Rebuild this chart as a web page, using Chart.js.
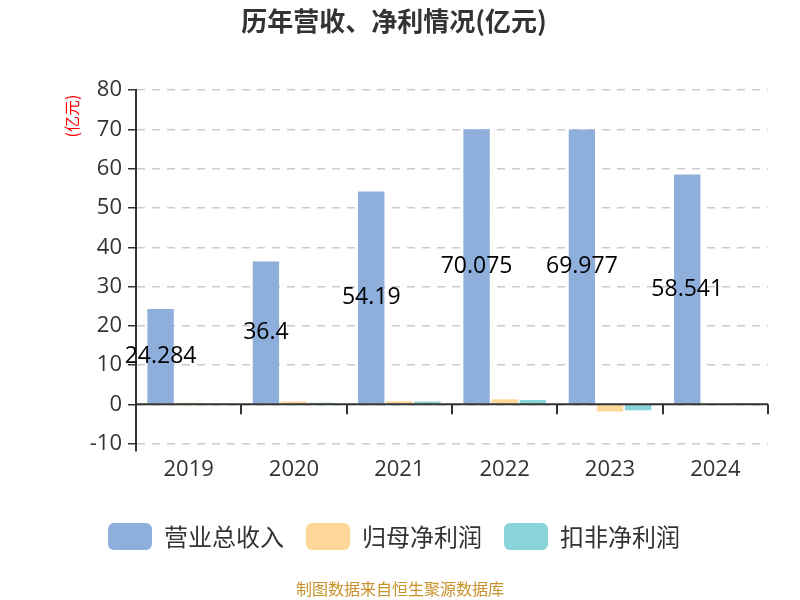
<!DOCTYPE html>
<html>
<head>
<meta charset="utf-8">
<script src="https://cdn.jsdelivr.net/npm/chart.js@4/dist/chart.umd.min.js"></script>
<style>
  body { margin: 0; background: #fff; }
  #wrap { width: 800px; height: 600px; }
</style>
</head>
<body>
<div id="wrap"><canvas id="chart" width="800" height="600"></canvas></div>
<script>
// data
const years = ['2019', '2020', '2021', '2022', '2023', '2024'];
const revenue = [24.284, 36.4, 54.19, 70.075, 69.977, 58.541];
const netProfit = [0.4, 0.7, 0.8, 1.3, -1.8, 0.2];
const deductedProfit = [0.3, 0.4, 0.7, 1.1, -1.5, 0.1];
const revenueLabels = ['24.284', '36.4', '54.19', '70.075', '69.977', '58.541'];

const FONT = '"Open Sans", "Noto Sans CJK SC", sans-serif';
const CJK = '"Noto Sans CJK SC", "Noto Sans", sans-serif';

// labels in the middle of the revenue bars, zero line, category ticks, unit + source
const extras = {
  id: 'extras',
  afterDatasetsDraw(chart) {
    const ctx = chart.ctx;
    const x = chart.scales.x;
    const y = chart.scales.y;
    const y0 = y.getPixelForValue(0);

    ctx.save();
    ctx.strokeStyle = '#333';
    ctx.lineWidth = 2;
    ctx.beginPath();
    ctx.moveTo(x.left, y0);
    ctx.lineTo(x.right, y0);
    const step = (x.right - x.left) / years.length;
    for (let i = 1; i <= years.length; i++) {
      const px = Math.round(x.left + step * i);
      ctx.moveTo(px, y0);
      ctx.lineTo(px, y0 + 10);
    }
    // left axis runs a little past the bottom tick
    ctx.moveTo(x.left, y.bottom);
    ctx.lineTo(x.left, y.bottom + 8);
    ctx.stroke();

    ctx.fillStyle = '#000';
    ctx.font = '23px ' + FONT;
    ctx.textAlign = 'center';
    ctx.textBaseline = 'middle';
    chart.getDatasetMeta(0).data.forEach((bar, i) => {
      ctx.fillText(revenueLabels[i], bar.x, (bar.y + bar.base) / 2);
    });

    ctx.fillStyle = 'red';
    ctx.font = '16px ' + CJK;
    ctx.translate(72, 116);
    ctx.rotate(-Math.PI / 2);
    ctx.fillText('(亿元)', 0, 0);
    ctx.restore();

    ctx.save();
    ctx.fillStyle = '#c8922a';
    ctx.font = '16px ' + CJK;
    ctx.textAlign = 'center';
    ctx.textBaseline = 'middle';
    ctx.fillText('制图数据来自恒生聚源数据库', 400, 589);
    ctx.restore();
  }
};

new Chart(document.getElementById('chart'), {
  type: 'bar',
  data: {
    labels: years,
    datasets: [
      { label: '营业总收入', data: revenue, backgroundColor: '#8eaedb' },
      { label: '归母净利润', data: netProfit, backgroundColor: '#ffd899' },
      { label: '扣非净利润', data: deductedProfit, backgroundColor: '#88d4d8' }
    ]
  },
  options: {
    responsive: false,
    animation: false,
    categoryPercentage: 0.8,
    barPercentage: 0.94,
    layout: { padding: { left: 20, right: 32, top: 0, bottom: 40 } },
    plugins: {
      title: {
        display: true,
        text: '历年营收、净利情况(亿元)',
        color: '#333',
        font: { family: CJK, size: 26, weight: 'bold' },
        padding: { top: 6, bottom: 53 }
      },
      legend: {
        position: 'bottom',
        labels: {
          color: '#333',
          font: { family: CJK, size: 24 },
          boxWidth: 44,
          boxHeight: 27,
          useBorderRadius: true,
          borderRadius: 6,
          padding: 22
        }
      },
      tooltip: { enabled: false }
    },
    scales: {
      x: {
        grid: { display: false },
        border: { display: false },
        afterFit(scale) { scale.height += 13; },
        ticks: { color: '#333', font: { family: FONT, size: 22 }, padding: 5 }
      },
      y: {
        min: -10,
        max: 80,
        afterFit(scale) { scale.width = 116; },
        ticks: { stepSize: 10, color: '#333', font: { family: FONT, size: 22 }, padding: 6 },
        grid: { color: '#ccc', lineWidth: 1.5, tickColor: '#333', tickLength: 8, tickBorderDash: [] },
        border: { display: true, color: '#333', width: 2, dash: [8, 7] }
      }
    }
  },
  plugins: [extras]
});
</script>
</body>
</html>
